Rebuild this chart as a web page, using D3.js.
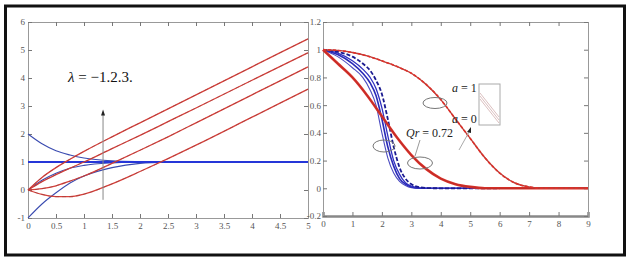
<!DOCTYPE html>
<html><head><meta charset="utf-8">
<script src="https://cdn.jsdelivr.net/npm/d3@7"></script>
<style>body{margin:0;background:#fff}svg{display:block}text{font-family:"Liberation Serif","DejaVu Serif",serif}</style>
</head><body>
<script>
// ---------- data ----------
const leftX = [0,0.25,0.5,0.75,1,1.5,2,2.5,3,4,5];
const redL1 = [0,0.45,0.8,1.1,1.38,1.9,2.4,2.9,3.4,4.4,5.4];
const redL2 = [0,0.3,0.55,0.78,1.0,1.48,1.95,2.44,2.93,3.92,4.9];
const redL3 = [0,0.05,0.15,0.32,0.5,0.95,1.42,1.9,2.4,3.4,4.4];
const redL4 = [0,-0.16,-0.24,-0.24,-0.15,0.22,0.66,1.12,1.6,2.6,3.6];
const blueFlat = [1,1,1,1,1,1,1,1,1,1,1];
const blueL1 = [2,1.65,1.4,1.25,1.14,1.04,1.01,1.0,1.0,1.0,1.0];
const blueL2 = [-1,-0.5,-0.1,0.25,0.5,0.8,0.95,0.99,1.0,1.0,1.0];
const blueL3 = [0,0.35,0.6,0.78,0.88,0.97,1.0,1.0,1.0,1.0,1.0];

const rightX = [0,0.5,1,1.5,2,2.5,3,3.5,4,4.5,5,5.5,6,6.5,7,7.5,8,9];
const redRdash = [1,0.995,0.98,0.955,0.92,0.88,0.83,0.75,0.64,0.5,0.36,0.22,0.11,0.04,0.01,0,0,0];
const redRthick = [1,0.9,0.8,0.67,0.52,0.37,0.24,0.14,0.07,0.03,0.01,0,0,0,0,0,0,0];
const blueRX = [0,0.5,1,1.35,1.6,1.8,2,2.2,2.4,2.6,2.8,3,3.3,3.6,4,5,6];
const blueRA = [1,0.95,0.87,0.8,0.71,0.6,0.4,0.22,0.11,0.05,0.02,0.005,0,0,0,0,0];
const blueRB = [1,0.965,0.9,0.83,0.76,0.67,0.5,0.3,0.16,0.07,0.03,0.01,0,0,0,0,0];
const blueRC = [1,0.975,0.92,0.86,0.8,0.72,0.58,0.38,0.2,0.1,0.04,0.015,0.003,0,0,0,0];
const blueRD = [1,0.985,0.95,0.9,0.85,0.78,0.68,0.5,0.3,0.15,0.07,0.03,0.007,0.001,0,0,0];

const leftXTicks = [0,0.5,1,1.5,2,2.5,3,3.5,4,4.5,5];
const leftYTicks = [-1,0,1,2,3,4,5,6];
const rightXTicks = [0,1,2,3,4,5,6,7,8,9];
const rightYTicks = [-0.2,0,0.2,0.4,0.6,0.8,1,1.2];

// ---------- drawing ----------
const W=633,H=260;
const svg=d3.select("body").append("svg").attr("width",W).attr("height",H);

const xL=d3.scaleLinear([0,5],[28,308]);
const yL=d3.scaleLinear([-1,6],[218,22]);
const xR=d3.scaleLinear([0,9],[323,588]);
const yR=d3.scaleLinear([-0.2,1.2],[216,22]);
const fmtHy = f => d => f(d).replace("−","-");

function styleAxis(g){
  g.select(".domain").attr("stroke","#999");
  g.selectAll(".tick line").attr("stroke","#777");
  g.selectAll("text").attr("fill","#555").attr("font-size",9);
}
// left axes box
svg.append("g").attr("transform",`translate(0,${yL(-1)})`)
  .call(d3.axisBottom(xL).tickValues(leftXTicks).tickSize(-4).tickPadding(5).tickFormat(d3.format("~g"))).call(styleAxis);
svg.append("g").attr("transform",`translate(0,${yL(6)})`)
  .call(d3.axisTop(xL).tickValues(leftXTicks).tickSize(-4).tickFormat("")).call(styleAxis);
svg.append("g").attr("transform",`translate(${xL(0)},0)`)
  .call(d3.axisLeft(yL).tickValues(leftYTicks).tickSize(-4).tickPadding(3).tickFormat(fmtHy(d3.format("d")))).call(styleAxis);
svg.append("g").attr("transform",`translate(${xL(5)},0)`)
  .call(d3.axisRight(yL).tickValues(leftYTicks).tickSize(-4).tickFormat("")).call(styleAxis);

// right axes box
const gRB=svg.append("g").attr("transform",`translate(0,${yR(-0.2)})`)
  .call(d3.axisBottom(xR).tickValues(rightXTicks).tickSize(-4).tickPadding(5).tickFormat(d3.format("d"))).call(styleAxis);
gRB.select(".domain").attr("stroke","#888").attr("stroke-width",2.5);
svg.append("g").attr("transform",`translate(0,${yR(1.2)})`)
  .call(d3.axisTop(xR).tickValues(rightXTicks).tickSize(-4).tickFormat("")).call(styleAxis);
svg.append("g").attr("transform",`translate(${xR(0)},0)`)
  .call(d3.axisLeft(yR).tickValues(rightYTicks).tickSize(-4).tickPadding(2).tickFormat(fmtHy(d3.format("~g")))).call(styleAxis);
svg.append("g").attr("transform",`translate(${xR(9)},0)`)
  .call(d3.axisRight(yR).tickValues(rightYTicks).tickSize(-4).tickFormat("")).call(styleAxis);

function drawLine(xs,ys,sx,sy,stroke,w,dash,op){
  const line=d3.line().x(d=>sx(d[0])).y(d=>sy(d[1])).curve(d3.curveMonotoneX);
  svg.append("path").datum(xs.map((x,i)=>[x,ys[i]])).attr("d",line)
    .attr("fill","none").attr("stroke",stroke).attr("stroke-width",w)
    .attr("stroke-dasharray",dash||null).attr("opacity",op||1);
}
// left: blue
[blueL1,blueL2,blueL3].forEach(s=>drawLine(leftX,s,xL,yL,"#3a4bb0",1.1));
drawLine(leftX,blueFlat,xL,yL,"#2536d8",2);
// left: red
[redL1,redL2,redL3,redL4].forEach(s=>{
  drawLine(leftX,s,xL,yL,"#d8403a",1.3);
  drawLine(leftX,s,xL,yL,"#8a3a3a",0.8,"4,3",0.6);
});
// arrow left
svg.append("line").attr("x1",xL(1.34)).attr("x2",xL(1.34)).attr("y1",yL(-0.35)).attr("y2",yL(2.7))
  .attr("stroke","#888").attr("stroke-width",1);
svg.append("path").attr("d",`M${xL(1.34)-2},${yL(2.7)+1} L${xL(1.34)},${yL(2.7)-5} L${xL(1.34)+2},${yL(2.7)+1}Z`).attr("fill","#222");
const lab=svg.append("text").attr("x",68).attr("y",82).attr("font-size",15).attr("fill","#111");
lab.append("tspan").attr("font-style","italic").text("λ");
lab.append("tspan").text(" = −1.2.3.");

// right: blue
drawLine(blueRX,blueRA,xR,yR,"#4a4ac0",1.1);
drawLine(blueRX,blueRB,xR,yR,"#2a2ab8",1.6);
drawLine(blueRX,blueRC,xR,yR,"#3030c0",1.3);
drawLine(blueRX,blueRD,xR,yR,"#1a1a90",1.8,"4,2");
svg.append("line").attr("x1",xR(5)).attr("x2",xR(9)).attr("y1",yR(0)).attr("y2",yR(0)).attr("stroke","#2a2ab8").attr("stroke-width",1.5);
// right: red
drawLine(rightX,redRthick,xR,yR,"#d83028",2.6);
drawLine(rightX,redRthick,xR,yR,"#a02828",0.8,null,0.6);
drawLine(rightX,redRdash,xR,yR,"#b8403a",1.4);
drawLine(rightX,redRdash,xR,yR,"#e0302a",1.6,"3,2");

// annotations right
function ell(cx,cy,rx,ry){svg.append("ellipse").attr("cx",cx).attr("cy",cy).attr("rx",rx).attr("ry",ry).attr("fill","none").attr("stroke","#777").attr("stroke-width",1);}
ell(435,103,12,5.5);
ell(420,163,12.5,6);
ell(384,146,11,6);
const t1=svg.append("text").attr("x",452).attr("y",92).attr("font-size",12).attr("fill","#222");
t1.append("tspan").attr("font-style","italic").text("a");t1.append("tspan").text(" = 1");
const t0=svg.append("text").attr("x",452).attr("y",123).attr("font-size",12).attr("fill","#222");
t0.append("tspan").attr("font-style","italic").text("a");t0.append("tspan").text(" = 0");
svg.append("rect").attr("x",479).attr("y",84).attr("width",21).attr("height",41).attr("fill","none").attr("stroke","#aaa").attr("stroke-width",1);
[0,3,6].forEach(o=>svg.append("line").attr("x1",480).attr("y1",93+o).attr("x2",499).attr("y2",117+o).attr("stroke","#dcc0c0").attr("stroke-width",1));
const tq=svg.append("text").attr("x",406).attr("y",137).attr("font-size",12).attr("fill","#222");
tq.append("tspan").attr("font-style","italic").text("Qr");tq.append("tspan").text(" = 0.72");
svg.append("line").attr("x1",420).attr("y1",140).attr("x2",415).attr("y2",156).attr("stroke","#999");
svg.append("line").attr("x1",459).attr("y1",150).attr("x2",469).attr("y2",132).attr("stroke","#aaa");
svg.append("path").attr("d","M467,132 L471,127 L471,133Z").attr("fill","#222");

// outer frame
svg.append("rect").attr("x",5.5).attr("y",6).attr("width",619).attr("height",249).attr("fill","none").attr("stroke","#111").attr("stroke-width",3);
</script>
</body></html>
